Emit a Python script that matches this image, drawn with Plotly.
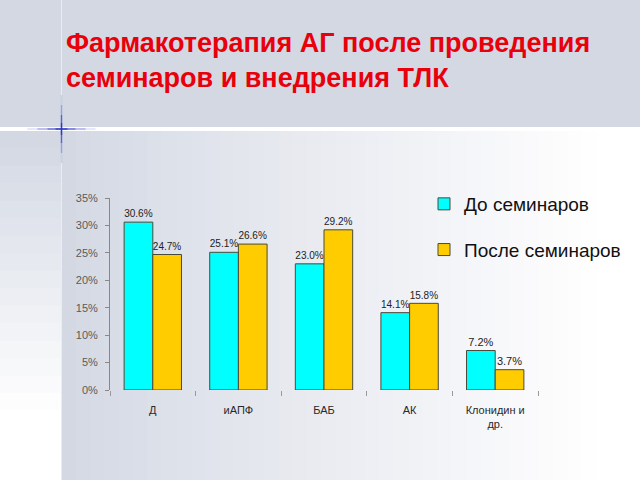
import plotly.graph_objects as go

categories = ["Д", "иАПФ", "БАБ", "АК", "Клонидин и<br>др."]
before = [0.306, 0.251, 0.230, 0.141, 0.072]
after = [0.247, 0.266, 0.292, 0.158, 0.037]
series_names = ["До семинаров", "После семинаров"]
title_text = "Фармакотерапия АГ после проведения<br>семинаров и внедрения ТЛК"

W, H = 640, 480
L, R, T, B = 110, 102, 198, 90
PW, PH = W - L - R, H - T - B


def px2x(px):
    return (px - L) / PW


def py2y(py):
    return (H - B - py) / PH


def lerp(c0, c1, t):
    return "rgb(%d,%d,%d)" % tuple(round(a + (b - a) * t) for a, b in zip(c0, c1))


shapes = []
gray = (211, 216, 227)
white = (255, 255, 255)
# top band
shapes.append(dict(type="rect", xref="paper", yref="paper", x0=px2x(0), x1=px2x(W),
                   y0=py2y(128), y1=py2y(0), fillcolor=lerp(gray, white, 0), line_width=0, layer="below"))
# main gradient area
n = 40
for i in range(n):
    xa = 61 + (W - 61) * i / n
    xb = 61 + (W - 61) * (i + 1) / n + 1
    t = min(1.0, (i / (n - 1)) ** 0.9 * 1.05)
    shapes.append(dict(type="rect", xref="paper", yref="paper", x0=px2x(xa), x1=px2x(xb),
                       y0=py2y(H), y1=py2y(131), fillcolor=lerp(gray, white, t), line_width=0, layer="below"))
# left strip vertical gradient
m = 20
for i in range(m):
    ya = 131 + (H - 131) * i / m
    yb = 131 + (H - 131) * (i + 1) / m + 1
    t = min(1.0, i / (m - 1) * 1.2)
    shapes.append(dict(type="rect", xref="paper", yref="paper", x0=px2x(0), x1=px2x(61),
                       y0=py2y(yb), y1=py2y(ya), fillcolor=lerp(gray, white, t), line_width=0, layer="below"))
# white separator line
shapes.append(dict(type="rect", xref="paper", yref="paper", x0=px2x(0), x1=px2x(W),
                   y0=py2y(131), y1=py2y(127), fillcolor="white", line_width=0, layer="below"))
# vertical thin line
shapes.append(dict(type="line", xref="paper", yref="paper", x0=px2x(61.5), x1=px2x(61.5),
                   y0=py2y(0), y1=py2y(H), line=dict(color="rgba(235,238,243,0.9)", width=1), layer="below"))
# blue cross (fading)
for half, op in [(34, 0.15), (24, 0.3), (14, 0.55), (6, 0.9)]:
    shapes.append(dict(type="line", xref="paper", yref="paper", x0=px2x(61.5 - half), x1=px2x(61.5 + half),
                       y0=py2y(129), y1=py2y(129), line=dict(color="rgba(40,50,200,%.2f)" % op, width=1.3), layer="below"))
    shapes.append(dict(type="line", xref="paper", yref="paper", x0=px2x(61.5), x1=px2x(61.5),
                       y0=py2y(129 - half), y1=py2y(129 + half), line=dict(color="rgba(40,50,200,%.2f)" % op, width=1.3), layer="below"))

fig = go.Figure()
colors = ["#00FFFF", "#FFCC00"]
for name, vals, col, grp in zip(series_names, [before, after], colors, ["a", "b"]):
    fig.add_trace(go.Bar(
        x=categories, y=vals, name=name, legendgroup=grp,
        marker=dict(color=col, line=dict(color="#4a4a3a", width=1)),
        text=[f"{v*100:.1f}%" for v in vals], textposition="outside",
        textfont=dict(family="Liberation Sans, Arial", size=11, color="#222222"),
        cliponaxis=False,
    ))

fig.update_layout(
    width=W, height=H,
    margin=dict(l=L, r=R, t=T, b=B, autoexpand=False),
    paper_bgcolor="white", plot_bgcolor="rgba(0,0,0,0)",
    barmode="group", bargap=0.33, bargroupgap=0,
    shapes=shapes,
    title=dict(text=title_text, x=66 / W, xanchor="left", xref="container",
               y=1 - 52 / H, yanchor="top", yref="container",
               font=dict(family="Liberation Sans, Arial", size=27, color="#E8000B", weight="bold")),
    legend=dict(x=px2x(424), y=py2y(185), xanchor="left", yanchor="top",
                bgcolor="rgba(0,0,0,0)", tracegroupgap=18,
                font=dict(family="Liberation Sans, Arial", size=19, color="#111111")),
    showlegend=True,
)
fig.update_xaxes(showline=False, ticks="outside", tickson="boundaries", ticklen=5,
                 tickcolor="#999999", showgrid=False, ticklabelstandoff=12,
                 tickfont=dict(family="Liberation Sans, Arial", size=11, color="#2a2a2a"))
fig.update_yaxes(range=[0, 0.35], dtick=0.05, tickformat=".0%", showline=True, linecolor="#888888",
                 ticks="outside", ticklen=4, tickcolor="#888888", showgrid=False, zeroline=False,
                 ticklabelstandoff=5,
                 tickfont=dict(family="Liberation Sans, Arial", size=11, color="#5a5a5a"))

fig.write_html("out.html")
